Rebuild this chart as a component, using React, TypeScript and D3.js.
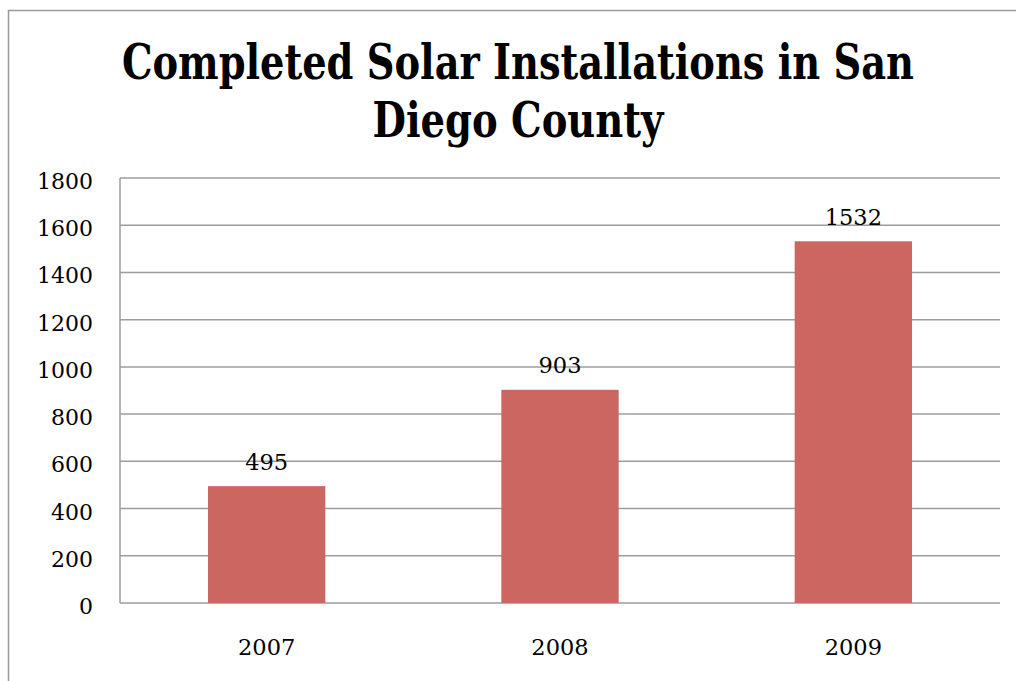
import React from "react";
import * as d3 from "d3";

const categories: string[] = ["2007", "2008", "2009"];
const values: number[] = [495, 903, 1532];
const yTicks: number[] = [0, 200, 400, 600, 800, 1000, 1200, 1400, 1600, 1800];
const titleLines: string[] = ["Completed Solar Installations in San", "Diego County"];

const W = 1016;
const H = 681;
const plot = { left: 120, right: 1000, top: 178, bottom: 603 };
const serif = "'DejaVu Serif', 'Liberation Serif', serif";
const grid = "#9c9c9c";
const barColor = "#cc6661";

export default function App() {
  const x = d3.scaleBand<string>().domain(categories).range([plot.left, plot.right]).padding(0);
  const y = d3.scaleLinear().domain([0, 1800]).range([plot.bottom, plot.top]);
  const barW = x.bandwidth() * 0.4;
  const cx = (c: string) => (x(c) as number) + x.bandwidth() / 2;

  return (
    <svg
      width={W}
      height={H}
      style={{ position: "absolute", left: 0, top: 0, background: "#fff" }}
    >
      <rect x={8.5} y={10.5} width={1100} height={1000} fill="#fff" stroke="#9a9a9a" strokeWidth={1.5} />

      <text
        x={518}
        y={79}
        textAnchor="middle"
        fontFamily="'DejaVu Serif Condensed', 'DejaVu Serif', serif"
        fontStretch="condensed"
        fontWeight="bold"
        fontSize={48}
        textLength={792}
        lengthAdjust="spacingAndGlyphs"
        fill="#000"
      >
        {titleLines[0]}
      </text>
      <text
        x={518}
        y={137}
        textAnchor="middle"
        fontFamily="'DejaVu Serif Condensed', 'DejaVu Serif', serif"
        fontStretch="condensed"
        fontWeight="bold"
        fontSize={48}
        textLength={291}
        lengthAdjust="spacingAndGlyphs"
        fill="#000"
      >
        {titleLines[1]}
      </text>

      {yTicks.map((t) => (
        <g key={t}>
          <line x1={plot.left} x2={plot.right} y1={y(t)} y2={y(t)} stroke={grid} strokeWidth={1.5} />
          <text
            x={93}
            y={y(t) + 11}
            textAnchor="end"
            fontFamily={serif}
            fontSize={22}
            fill="#000"
          >
            {t}
          </text>
        </g>
      ))}
      <line x1={plot.left} x2={plot.left} y1={plot.top} y2={plot.bottom} stroke={grid} strokeWidth={1.5} />

      {categories.map((c, i) => (
        <g key={c}>
          <rect
            x={cx(c) - barW / 2}
            y={y(values[i])}
            width={barW}
            height={y(0) - y(values[i])}
            fill={barColor}
          />
          <text
            x={cx(c)}
            y={y(values[i]) - 16.5}
            textAnchor="middle"
            fontFamily={serif}
            fontSize={22.5}
            fill="#000"
          >
            {values[i]}
          </text>
          <text x={cx(c)} y={655} textAnchor="middle" fontFamily={serif} fontSize={22.5} fill="#000">
            {c}
          </text>
        </g>
      ))}
    </svg>
  );
}
